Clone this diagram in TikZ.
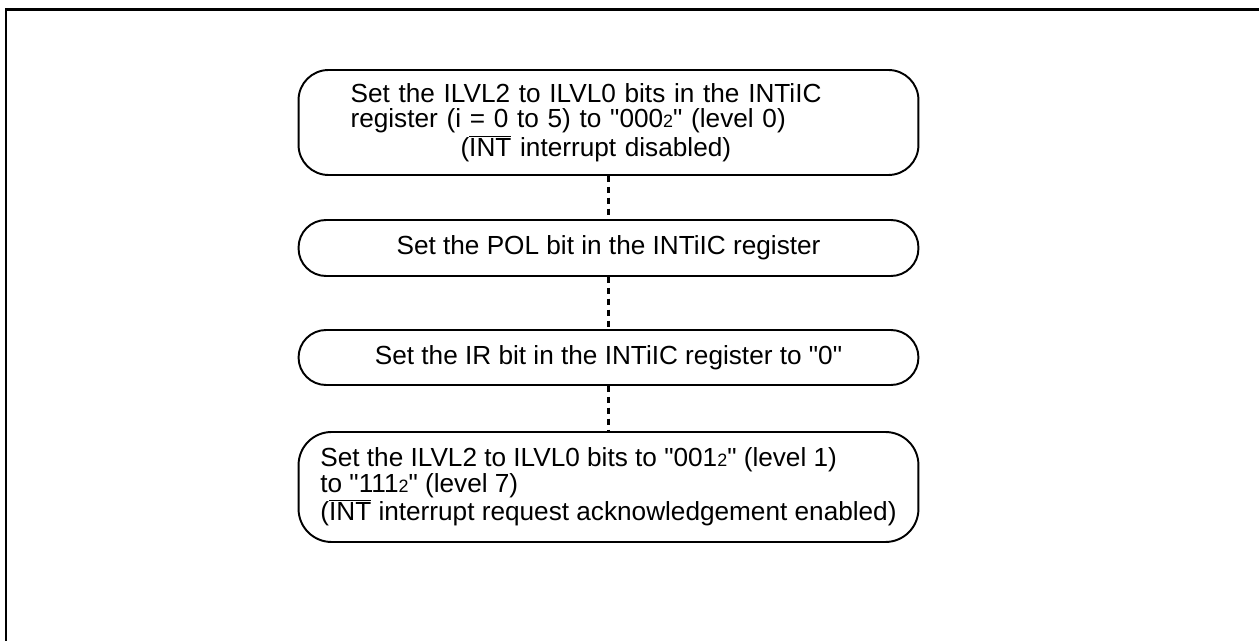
\documentclass[tikz,border=0pt]{standalone}
\usepackage{fontspec}
\setmainfont{Liberation Sans}[Ligatures=TeXOff]
\newcommand{\ovl}[1]{$\overline{\mbox{#1}}$}
\newcommand{\sm}[1]{{\fontsize{10.2pt}{10.2pt}\selectfont #1}}
\begin{document}
\begin{tikzpicture}[x=0.02cm,y=-0.02cm,
  box/.style={draw, line width=1.1pt, inner ysep=0pt, minimum width=12.4cm,
    font=\fontsize{14.9pt}{14.6pt}\selectfont},
  link/.style={line width=1.3pt, dash pattern=on 3.4pt off 2.8pt},
  frame/.style={line width=1.2pt}]
\useasboundingbox (0,0) rectangle (1259,641);
\draw[frame] (6,641) -- (6,9.5) -- (1259,9.5);

\node[box, rounded corners=0.6cm, minimum height=2.1cm, inner xsep=1.04cm,
  text width=10.32cm, align=left] (b1) at (608.5,122.5)
  {Set the ILVL2 to ILVL0 bits in the INTiIC\\
   register (i = 0 to 5) to "000\sm{2}" (level 0)\\
   \hspace*{2.2cm}(\ovl{INT} interrupt disabled)};

\node[box, rounded corners=0.55cm, minimum height=1.12cm, align=center] (b2) at (608.5,248)
  {Set the POL bit in the INTiIC register};

\node[box, rounded corners=0.55cm, minimum height=1.1cm, align=center] (b3) at (608.5,357.5)
  {Set the IR bit in the INTiIC register to "0"};

\node[box, rounded corners=0.66cm, minimum height=2.2cm, align=left] (b4) at (608.5,487)
  {Set the ILVL2 to ILVL0 bits to "001\sm{2}" (level 1)\\
   to "111\sm{2}" (level 7)\\
   (\ovl{INT} interrupt request acknowledgement enabled)};

\draw[link] (b1.south) -- (b2.north);
\draw[link] (b2.south) -- (b3.north);
\draw[link] (b3.south) -- (b4.north);
\end{tikzpicture}
\end{document}
